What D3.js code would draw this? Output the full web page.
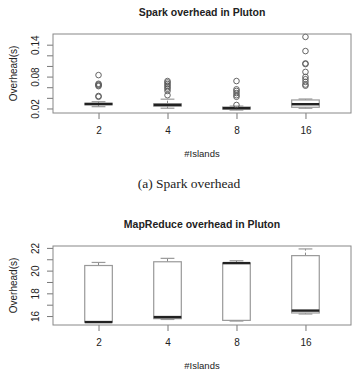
<!DOCTYPE html>
<html>
<head>
<meta charset="utf-8">
<script src="https://cdn.jsdelivr.net/npm/d3@7"></script>
<style>
  body { margin: 0; background: #fff; }
  text { font-family: "Liberation Sans", Arial, sans-serif; fill: #222; }
</style>
</head>
<body>
<script>
// categories (number of islands)
const categories = ["2", "4", "8", "16"];

// Spark overhead (s)
const sparkLow = [0.0234, 0.0205, 0.0170, 0.0204];
const sparkQ1 = [0.0270, 0.0245, 0.0188, 0.0223];
const sparkMedian = [0.0284, 0.0266, 0.0205, 0.0280];
const sparkQ3 = [0.0298, 0.0290, 0.0228, 0.0360];
const sparkHigh = [0.0328, 0.0375, 0.0245, 0.0378];
const sparkOutliers = [
    [0.0828, 0.0665, 0.0650, 0.0635, 0.0620, 0.0435, 0.0420],
    [0.0716, 0.0690, 0.0660, 0.0630, 0.0600, 0.0570, 0.0530, 0.0450],
    [0.0716, 0.0560, 0.0530, 0.0490, 0.0450, 0.0420, 0.0266],
    [0.1546, 0.1280, 0.1048, 0.1035, 0.0888, 0.0794, 0.0750, 0.0700, 0.0650, 0.0628]
];
const sparkTicks = [0.02, 0.04, 0.06, 0.08, 0.10, 0.12, 0.14];
const sparkTickLabels = ["0.02", "", "", "0.08", "", "", "0.14"];

// MapReduce overhead (s)
const mrLow = [15.47, 15.70, 15.56, 16.18];
const mrQ1 = [15.47, 15.77, 15.62, 16.27];
const mrMedian = [15.47, 15.91, 20.66, 16.48];
const mrQ3 = [20.45, 20.78, 20.66, 21.32];
const mrHigh = [20.72, 21.08, 20.87, 21.91];
const mrOutliers = [[], [], [], []];
const mrTicks = [16, 17, 18, 19, 20, 21, 22];
const mrTickLabels = ["16", "", "18", "", "20", "", "22"];

const W = 355, H = 390;
const svg = d3.select("body").append("svg")
    .attr("width", W)
    .attr("height", H);

function boxChart(top, cfg) {
    const left = 53, right = 351;
    const bottom = top + 79;
    const g = svg.append("g");

    // R style limits: extend range by 4%
    const all = cfg.low.concat(cfg.high, cfg.outliers.flat());
    const lo = d3.min(all), hi = d3.max(all);
    const ext = (hi - lo) * 0.04;
    const y = d3.scaleLinear().domain([lo - ext, hi + ext]).range([bottom, top]);
    const x = d3.scaleLinear().domain([0.34, categories.length + 0.66]).range([left, right]);
    const bw = x(1.4) - x(1);

    // title
    g.append("text")
        .attr("x", 202).attr("y", top - 18)
        .attr("text-anchor", "middle")
        .attr("font-weight", "bold")
        .attr("font-size", 10.5)
        .text(cfg.title);

    // y axis
    const yAxis = g.append("g")
        .attr("transform", `translate(${left},0)`)
        .call(d3.axisLeft(y).tickValues(cfg.ticks).tickSize(6)
            .tickFormat((d, i) => cfg.tickLabels[i]));
    yAxis.select(".domain").remove();
    yAxis.selectAll("line").attr("stroke", "#777");
    yAxis.selectAll("text")
        .attr("transform", "rotate(-90)")
        .attr("x", 0).attr("y", -14).attr("dy", 0)
        .attr("text-anchor", "middle")
        .attr("font-size", 10)
        .attr("fill", "#333");

    // x axis
    const xAxis = g.append("g")
        .attr("transform", `translate(0,${bottom})`)
        .call(d3.axisBottom(x).tickValues(d3.range(1, categories.length + 1)).tickSize(6)
            .tickFormat((d, i) => categories[i]));
    xAxis.select(".domain").remove();
    xAxis.selectAll("line").attr("stroke", "#777");
    xAxis.selectAll("text")
        .attr("y", 18).attr("dy", "0.32em")
        .attr("font-size", 10)
        .attr("fill", "#333");

    // axis titles
    g.append("text")
        .attr("x", 202).attr("y", bottom + 44)
        .attr("text-anchor", "middle")
        .attr("font-size", 9.5)
        .attr("fill", "#333")
        .text("#Islands");
    g.append("text")
        .attr("transform", `translate(17,${(top + bottom) / 2}) rotate(-90)`)
        .attr("text-anchor", "middle")
        .attr("font-size", 10)
        .attr("fill", "#333")
        .text("Overhead(s)");

    // boxes
    categories.forEach((c, i) => {
        const cx = x(i + 1);
        const b = g.append("g");
        // whiskers (dashed)
        b.append("line")
            .attr("x1", cx).attr("x2", cx)
            .attr("y1", y(cfg.q3[i])).attr("y2", y(cfg.high[i]))
            .attr("stroke", "#888").attr("stroke-dasharray", "3,2");
        b.append("line")
            .attr("x1", cx).attr("x2", cx)
            .attr("y1", y(cfg.q1[i])).attr("y2", y(cfg.low[i]))
            .attr("stroke", "#888").attr("stroke-dasharray", "3,2");
        // staples
        [cfg.high[i], cfg.low[i]].forEach(v => {
            b.append("line")
                .attr("x1", cx - bw / 4).attr("x2", cx + bw / 4)
                .attr("y1", y(v)).attr("y2", y(v))
                .attr("stroke", "#999").attr("stroke-width", 1.2);
        });
        // box
        b.append("rect")
            .attr("x", cx - bw / 2).attr("width", bw)
            .attr("y", y(cfg.q3[i]))
            .attr("height", Math.max(0, y(cfg.q1[i]) - y(cfg.q3[i])))
            .attr("fill", "#fff")
            .attr("stroke", "#999").attr("stroke-width", 1.2);
        // median
        b.append("line")
            .attr("x1", cx - bw / 2).attr("x2", cx + bw / 2)
            .attr("y1", y(cfg.median[i])).attr("y2", y(cfg.median[i]))
            .attr("stroke", "#222").attr("stroke-width", 2.4);
        // outliers
        b.selectAll("circle")
            .data(cfg.outliers[i])
            .join("circle")
            .attr("cx", cx).attr("cy", d => y(d))
            .attr("r", 2.8)
            .attr("fill", "none")
            .attr("stroke", "#555").attr("stroke-width", 0.9);
    });

    // frame
    g.append("rect")
        .attr("x", left).attr("y", top)
        .attr("width", right - left).attr("height", bottom - top)
        .attr("fill", "none")
        .attr("stroke", "#888").attr("stroke-width", 1);

    // caption (the second one falls below the visible area)
    if (cfg.caption) {
        g.append("text")
            .attr("x", 189).attr("y", bottom + 75)
            .attr("text-anchor", "middle")
            .attr("font-size", 13.5)
            .style("font-family", "'Liberation Serif', 'Times New Roman', serif")
            .attr("fill", "#333")
            .text(cfg.caption);
    }
}

boxChart(34, {
    title: "Spark overhead in Pluton",
    caption: "(a) Spark overhead",
    low: sparkLow, q1: sparkQ1, median: sparkMedian, q3: sparkQ3, high: sparkHigh,
    outliers: sparkOutliers, ticks: sparkTicks, tickLabels: sparkTickLabels
});

boxChart(246, {
    title: "MapReduce overhead in Pluton",
    caption: null,
    low: mrLow, q1: mrQ1, median: mrMedian, q3: mrQ3, high: mrHigh,
    outliers: mrOutliers, ticks: mrTicks, tickLabels: mrTickLabels
});
</script>
</body>
</html>
